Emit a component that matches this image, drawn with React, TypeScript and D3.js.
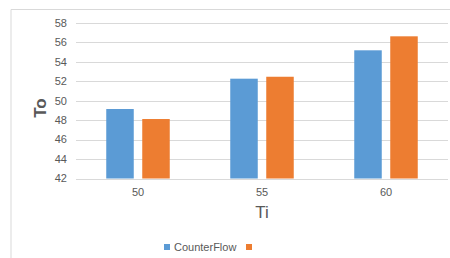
import React from 'react';
import * as d3 from 'd3';

const categories = ['50', '55', '60'];
const seriesNames = ['CounterFlow', ''];
const counterFlow = [49.15, 52.27, 55.19];
const secondSeries = [48.12, 52.47, 56.63];
const yTicks = [42, 44, 46, 48, 50, 52, 54, 56, 58];

const colors = ['#5b9bd5', '#ed7d31'];
const font = '"Liberation Sans", Arial, sans-serif';

const App = () => {
  const width = 450,
    height = 258;
  const margin = { top: 23, right: 2, bottom: 79.5, left: 76 };

  const x = d3.scaleBand<string>()
    .domain(categories)
    .range([margin.left, width - margin.right])
    .paddingInner(0)
    .paddingOuter(0);

  const groupWidth = 63.5;
  const xInner = d3.scaleBand<string>()
    .domain(['0', '1'])
    .range([0, groupWidth])
    .paddingInner(0.236)
    .paddingOuter(0);

  const y = d3.scaleLinear()
    .domain([42, 58])
    .range([height - margin.bottom, margin.top]);

  const series = [counterFlow, secondSeries];

  return (
    <svg
      width={width}
      height={height}
      style={{ position: 'absolute', left: 0, top: 0, background: '#fff' }}
      fontFamily={font}
    >
      {/* frame */}
      <path d={`M11,${height} V9.5 H${width}`} fill="none" stroke="#d9d9d9" strokeWidth={1} />

      {/* gridlines + y labels */}
      {yTicks.map(t => (
        <g key={t}>
          <line
            x1={margin.left}
            x2={width - margin.right}
            y1={Math.round(y(t)) + 0.5}
            y2={Math.round(y(t)) + 0.5}
            stroke="#d9d9d9"
          />
          <text
            x={67}
            y={y(t)}
            dy="0.35em"
            textAnchor="end"
            fontSize={11}
            fill="#595959"
          >
            {t}
          </text>
        </g>
      ))}

      {/* bars */}
      {categories.map((c, i) => {
        const x0 = x(c)! + (x.bandwidth() - groupWidth) / 2;
        return series.map((s, j) => (
          <rect
            key={c + j}
            x={x0 + xInner(String(j))!}
            y={y(s[i])}
            width={xInner.bandwidth()}
            height={y(42) - y(s[i])}
            fill={colors[j]}
          />
        ));
      })}

      {/* x labels */}
      {categories.map(c => (
        <text
          key={c}
          x={x(c)! + x.bandwidth() / 2}
          y={196}
          textAnchor="middle"
          fontSize={11}
          fill="#595959"
        >
          {c}
        </text>
      ))}

      {/* axis titles */}
      <text x={262} y={218} textAnchor="middle" fontSize={17} fill="#595959">
        Ti
      </text>
      <text
        transform="translate(46,108) rotate(-90)"
        textAnchor="middle"
        fontSize={17}
        fontWeight="bold"
        fill="#595959"
      >
        To
      </text>

      {/* legend */}
      <rect x={164} y={244} width={6} height={6} fill={colors[0]} />
      <text x={174} y={250.5} fontSize={11} fill="#595959">
        {seriesNames[0]}
      </text>
      <rect x={246} y={244} width={6} height={6} fill={colors[1]} />
      <text x={256} y={250.5} fontSize={11} fill="#595959">
        {seriesNames[1]}
      </text>
    </svg>
  );
};

export default App;
